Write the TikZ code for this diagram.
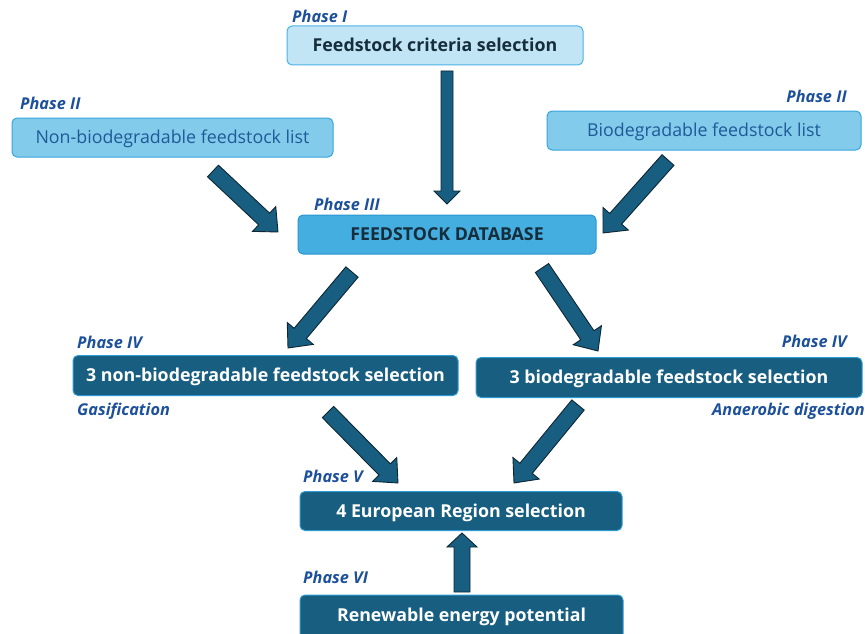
\documentclass[tikz,border=0pt]{standalone}
\usepackage{fontspec}
\setmainfont{Open Sans}
\usetikzlibrary{calc}
\definecolor{darkfill}{RGB}{23,94,128}
\definecolor{darkedge}{RGB}{45,155,210}
\definecolor{critfill}{RGB}{193,229,245}
\definecolor{critedge}{RGB}{75,178,226}
\definecolor{listfill}{RGB}{131,203,235}
\definecolor{listedge}{RGB}{55,165,220}
\definecolor{listtext}{RGB}{30,90,152}
\definecolor{dbfill}{RGB}{69,174,224}
\definecolor{dbedge}{RGB}{40,150,210}
\definecolor{darktext}{RGB}{22,45,60}
\definecolor{phasetext}{RGB}{28,80,155}
\definecolor{arrfill}{RGB}{23,94,128}
\definecolor{arredge}{RGB}{14,38,52}
\tikzset{
  box/.style={rounded corners=5pt, line width=1pt, inner sep=0pt, anchor=center,
    text height=12.7pt, text depth=0pt, font=\fontsize{17.8}{20}\selectfont},
  critbox/.style={box, fill=critfill, draw=critedge, text=darktext, font=\fontsize{17.8}{20}\selectfont\bfseries},
  listbox/.style={box, fill=listfill, draw=listedge, text=listtext},
  dbbox/.style={box, fill=dbfill, draw=dbedge, text=darktext, font=\fontsize{17.8}{20}\selectfont\bfseries},
  darkbox/.style={box, fill=darkfill, draw=darkedge, text=white, font=\fontsize{17.8}{20}\selectfont\bfseries},
  phase/.style={text=phasetext, inner sep=0pt, font=\fontsize{16.3}{18}\selectfont\bfseries\itshape},
  blockarr/.style={fill=arrfill, draw=arredge, line width=0.9pt, line join=miter},
}
% #1 tail, #2 tip, #3 shaft half width, #4 head half width, #5 head length
\newcommand\blockarrow[5]{%
  \path[blockarr] let \p1=(#1), \p2=(#2),
    \n1={atan2(\y2-\y1,\x2-\x1)}, \n2={veclen(\x2-\x1,\y2-\y1)} in
    [shift={(\p1)}, rotate=\n1]
    (0pt,-#3) -- (\n2-#5,-#3) -- (\n2-#5,-#4) -- (\n2,0pt) -- (\n2-#5,#4)
    -- (\n2-#5,#3) -- (0pt,#3) -- cycle;}
\begin{document}
\begin{tikzpicture}[x=1pt,y=-1pt]
\useasboundingbox (0,0) rectangle (865,634);
% boxes
\node[critbox, minimum width=296pt, minimum height=39pt] (crit) at (435,45.5) {Feedstock criteria selection};
\node[listbox, minimum width=321pt, minimum height=39pt] (nonlist) at (172.5,137.5) {Non-biodegradable feedstock list};
\node[listbox, minimum width=314pt, minimum height=39pt] (biolist) at (704,130.5) {Biodegradable feedstock list};
\node[dbbox, minimum width=298pt, minimum height=39pt] (db) at (447,234.5) {FEEDSTOCK DATABASE};
\node[darkbox, minimum width=385pt, minimum height=40pt] (nonsel) at (265.5,375.5) {3 non-biodegradable feedstock selection};
\node[darkbox, minimum width=386pt, minimum height=40pt] (biosel) at (669,377.5) {3 biodegradable feedstock selection};
\node[darkbox, minimum width=322pt, minimum height=39pt] (eu) at (461,511) {4 European Region selection};
\node[darkbox, minimum width=323pt, minimum height=44pt] (ren) at (461.5,617) {};
\node[text=white, font=\fontsize{17.8}{20}\selectfont\bfseries, inner sep=0pt, text height=12.7pt, text depth=0pt] (rentext) at (461.5,615) {Renewable energy potential};
% phase labels
\node[phase, anchor=west] (p1) at (292,16) {Phase I};
\node[phase, anchor=west] (p2l) at (20,103) {Phase II};
\node[phase, anchor=east] (p2r) at (847,96) {Phase II};
\node[phase, anchor=west] (p3) at (314,204) {Phase III};
\node[phase, anchor=west] (p4l) at (77,342) {Phase IV};
\node[phase, anchor=east] (p4r) at (847,341) {Phase IV};
\node[phase, anchor=west] (gas) at (77,411) {Gasification};
\node[phase, anchor=east] (ad) at (865,411) {Anaerobic digestion};
\node[phase, anchor=west] (p5) at (303,476) {Phase V};
\node[phase, anchor=west] (p6) at (303,577) {Phase VI};
% arrow end points
\coordinate (a1s) at (447,71);   \coordinate (a1e) at (447,204);
\coordinate (a2s) at (213,171);  \coordinate (a2e) at (278,232);
\coordinate (a3s) at (668,160);  \coordinate (a3e) at (603,233);
\coordinate (a4s) at (352,272);  \coordinate (a4e) at (288,348);
\coordinate (a5s) at (542,268);  \coordinate (a5e) at (598,351);
\coordinate (a6s) at (328,412);  \coordinate (a6e) at (398,483);
\coordinate (a7s) at (578,405);  \coordinate (a7e) at (514,483);
\coordinate (a8s) at (462,592);  \coordinate (a8e) at (462,533);
% arrows
\blockarrow{a1s}{a1e}{6pt}{13pt}{13pt}
\blockarrow{a2s}{a2e}{8pt}{17pt}{19pt}
\blockarrow{a3s}{a3e}{8pt}{17pt}{19pt}
\blockarrow{a4s}{a4e}{8pt}{17pt}{19pt}
\blockarrow{a5s}{a5e}{8pt}{17pt}{19pt}
\blockarrow{a6s}{a6e}{8pt}{17pt}{19pt}
\blockarrow{a7s}{a7e}{8pt}{17pt}{19pt}
\blockarrow{a8s}{a8e}{8pt}{15pt}{14pt}
\end{tikzpicture}
\end{document}
